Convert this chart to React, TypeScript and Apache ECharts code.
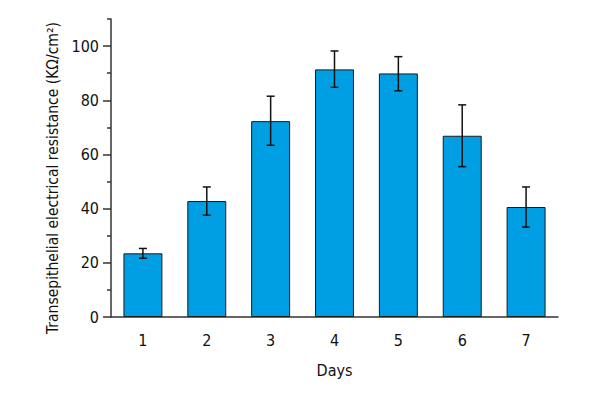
import React, { useEffect, useRef } from "react";
import * as echarts from "echarts";

const days = ["1", "2", "3", "4", "5", "6", "7"];
const resistance = [23.5, 42.8, 72.3, 91.4, 89.9, 66.9, 40.6];
const errLow = [21.7, 37.6, 63.4, 84.8, 83.5, 55.5, 33.2];
const errHigh = [25.3, 48.0, 81.5, 98.2, 96.1, 78.3, 48.0];
const majorTicks = [0, 20, 40, 60, 80, 100];
const minorTicks = [10, 30, 50, 70, 90, 110];

const FONT = "'DejaVu Sans Condensed', 'DejaVu Sans', sans-serif";
const AXIS = "#333333";

export default function App() {
  const ref = useRef<HTMLDivElement>(null);
  useEffect(() => {
    if (!ref.current) return;
    const chart = echarts.init(ref.current, undefined, { renderer: "svg" });
    const errData = days.map((_, i) => [i, errLow[i], errHigh[i]]);
    chart.setOption({
      animation: false,
      backgroundColor: "#ffffff",
      grid: { left: 111, right: 42, top: 19, bottom: 83 },
      xAxis: [
        {
          type: "category",
          data: days,
          name: "Days",
          nameLocation: "middle",
          nameGap: 45,
          nameTextStyle: { fontFamily: FONT, fontSize: 16, color: "#111" },
          axisLine: { lineStyle: { color: AXIS, width: 1.5 } },
          axisTick: { alignWithLabel: true, length: 8, lineStyle: { color: AXIS, width: 1.5 } },
          axisLabel: { fontFamily: FONT, fontSize: 16, color: "#111", margin: 15 },
        },
        {
          type: "category",
          data: days,
          position: "bottom",
          axisLine: { show: false },
          axisTick: { length: 4, lineStyle: { color: AXIS, width: 1.5 } },
          axisLabel: { show: false },
        },
      ],
      yAxis: [
        {
          type: "value",
          min: 0,
          max: 110,
          interval: 10,
          name: "Transepithelial electrical resistance (KΩ/cm²)",
          nameLocation: "middle",
          nameGap: 50,
          nameTextStyle: { fontFamily: FONT, fontSize: 15.5, color: "#111", padding: [0, 20, 0, 0] },
          splitLine: { show: false },
          axisLine: { show: true, lineStyle: { color: AXIS, width: 1.5 } },
          axisTick: { show: true, length: 8, customValues: majorTicks, lineStyle: { color: AXIS, width: 1.5 } },
          axisLabel: { customValues: majorTicks, fontFamily: FONT, fontSize: 16, color: "#111", margin: 12 },
        },
        {
          type: "value",
          min: 0,
          max: 110,
          interval: 10,
          position: "left",
          splitLine: { show: false },
          axisLine: { show: false },
          axisTick: { show: true, length: 4, customValues: minorTicks, lineStyle: { color: AXIS, width: 1.5 } },
          axisLabel: { show: false },
        },
      ],
      series: [
        {
          type: "bar",
          data: resistance,
          barWidth: "61%",
          itemStyle: { color: "#009FE3", borderColor: "#1a1a1a", borderWidth: 1 },
        },
        {
          type: "custom",
          data: errData,
          z: 10,
          renderItem: (params: any, api: any) => {
            const x = api.value(0);
            const lo = api.coord([x, api.value(1)]);
            const hi = api.coord([x, api.value(2)]);
            const hw = 4;
            const style = { stroke: "#111", lineWidth: 1.5 };
            return {
              type: "group",
              children: [
                { type: "line", shape: { x1: lo[0], y1: lo[1], x2: hi[0], y2: hi[1] }, style },
                { type: "line", shape: { x1: hi[0] - hw, y1: hi[1], x2: hi[0] + hw, y2: hi[1] }, style },
                { type: "line", shape: { x1: lo[0] - hw, y1: lo[1], x2: lo[0] + hw, y2: lo[1] }, style },
              ],
            };
          },
        },
      ],
    });
    return () => chart.dispose();
  }, []);
  return <div ref={ref} style={{ width: 600, height: 400, margin: -8 }} />;
}
